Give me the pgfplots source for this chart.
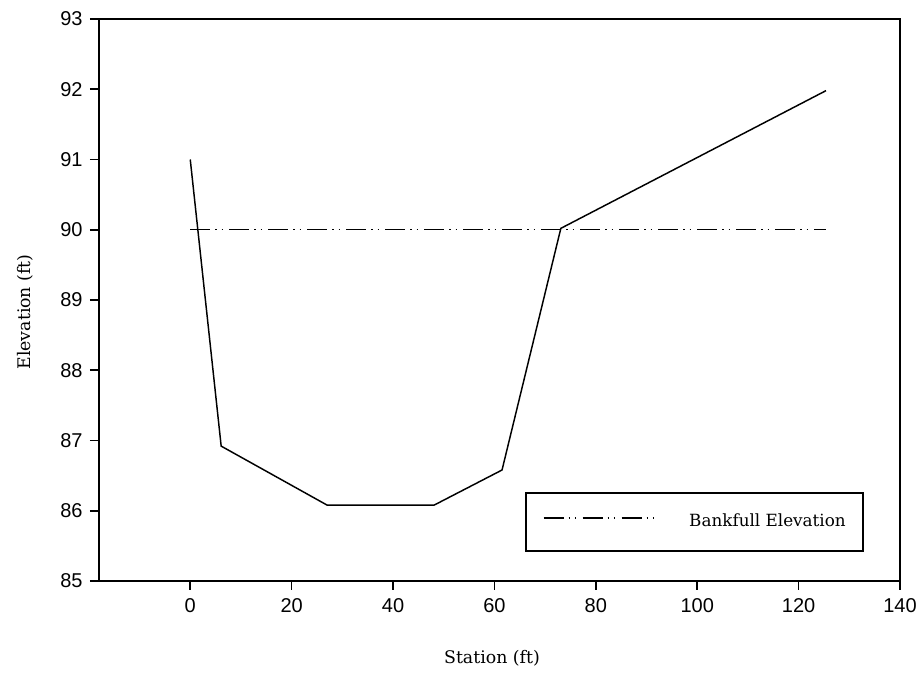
\documentclass[border=0pt]{standalone}
\usepackage{fontspec}
\setmainfont{Liberation Sans}
\newfontfamily\seriffont{DejaVu Serif}
\usepackage{pgfplots}
\pgfplotsset{compat=1.18}
\begin{document}
\begin{tikzpicture}
\begin{axis}[
  at={(0,0)}, anchor=south west,
  scale only axis,
  width=600.75pt, height=421.5pt,
  xmin=-18, xmax=140, ymin=85, ymax=93,
  xtick={0,20,...,140}, ytick={85,86,...,93},
  xtick pos=bottom, ytick pos=left,
  tick align=outside,
  major tick length=6.75pt,
  minor tick num=0,
  axis line style={line width=1.3pt, black},
  every tick/.style={line width=1.2pt, black},
  /pgf/number format/assume math mode=true,
  ticklabel style={font=\fontsize{15}{18}\selectfont},
  xticklabel style={yshift=-3pt},
  yticklabel style={xshift=-2pt},
  legend style={
    at={(axis description cs:0.5318,0.0516)}, anchor=south west,
    draw=black, line width=1.2pt,
    font=\seriffont\fontsize{12.6}{15}\selectfont,
    inner xsep=12.75pt, inner ysep=16pt,
    column sep=0pt,
    nodes={inner sep=0pt, text height=9pt, text depth=2.5pt},
  },
  legend cell align=left,
  legend image code/.code={\draw[#1] (0pt,3pt) -- (83.25pt,3pt); \path[draw=none,fill=none] (0pt,0pt) rectangle (109.25pt,1pt);},
]
\addplot[black, line width=1.1pt, forget plot] coordinates {
  (0,91) (6.1,86.92) (27,86.08) (48.1,86.08) (61.5,86.58) (73.1,90.02) (125.4,91.98)
};
\addplot[black, line width=1.1pt,
  dash pattern=on 15pt off 3.75pt on 1pt off 3.75pt on 1pt off 4.75pt,
] coordinates {(0,90) (125.4,90)};
\addlegendentry{Bankfull Elevation}
\end{axis}
\path (-74.25pt,-72pt) rectangle (618.75pt,435.75pt);
\node[font=\seriffont\fontsize{13}{15}\selectfont] at (294.75pt,-57.75pt) {Station (ft)};
\node[rotate=90, font=\seriffont\fontsize{13}{15}\selectfont] at (-55.5pt,201.75pt) {Elevation (ft)};
\end{tikzpicture}
\end{document}
